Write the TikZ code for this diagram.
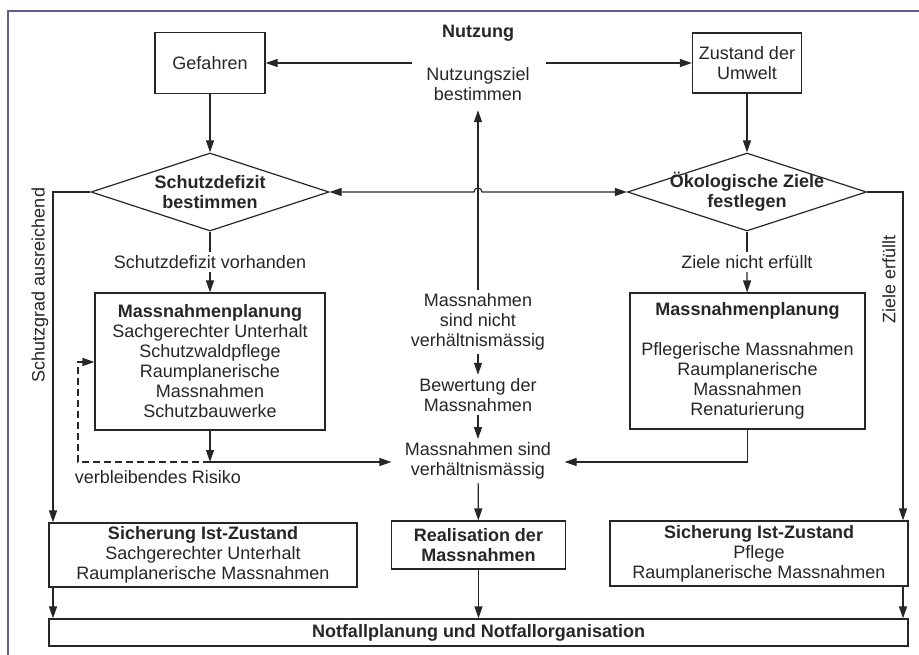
\documentclass[tikz,border=0pt]{standalone}
\usepackage{fontspec}
\setmainfont{Liberation Sans}
\usetikzlibrary{shapes.geometric,arrows.meta}
\definecolor{rahmenfarbe}{RGB}{95,95,135}
\tikzset{
	schrift/.style={font=\fontsize{18}{20}\selectfont},
	fett/.style={font=\fontsize{18}{20}\selectfont\bfseries},
	pfeil/.style={-{Triangle[length=12pt,width=8pt]}},
	doppelpfeil/.style={{Triangle[length=12pt,width=8pt]}-{Triangle[length=12pt,width=8pt]}},
	kasten/.style={draw,align=center,inner sep=2pt},
	raute/.style={draw,diamond,inner sep=0pt},
	txt/.style={align=center,inner sep=3pt}
}
\begin{document}
\begin{tikzpicture}[x=1pt,y=-1pt,line width=1.2pt,color=black!85,schrift]
		\useasboundingbox (0,0) rectangle (919,655);
		\draw[rahmenfarbe,line width=2.5pt] (8,655)--(8,11)--(919,11);
		\node[fett] (nutz) at (478,33) {Nutzung};
		\node[txt] (nzb) at (478,84) {Nutzungsziel\\bestimmen};
		\node[kasten,minimum width=110,minimum height=61] (gef) at (210,63) {Gefahren};
		\node[kasten,minimum width=109,minimum height=60] (zus) at (747,63) {Zustand der\\Umwelt};
		\node[raute,minimum width=238,minimum height=78] (sd) at (210,192) {};
		\node[fett,align=center] at (sd) {Schutzdefizit\\bestimmen};
		\node[raute,minimum width=239,minimum height=78] (oz) at (747,192) {};
		\node[fett,align=center] at (oz) {Ökologische Ziele\\festlegen};
		\node[txt] (sdv) at (210,262) {Schutzdefizit vorhanden};
		\node[txt] (zne) at (747,262) {Ziele nicht erfüllt};
		\node[kasten,minimum width=230,minimum height=137] (mpl) at (210,361.5)
		{\textbf{Massnahmenplanung}\\Sachgerechter Unterhalt\\Schutzwaldpflege\\Raumplanerische\\Massnahmen\\Schutzbauwerke};
		\node[kasten,minimum width=235,minimum height=136] (mpr) at (747.5,361)
		{\textbf{Massnahmenplanung}\\[20pt]Pflegerische Massnahmen\\Raumplanerische\\Massnahmen\\Renaturierung};
		\node[txt] (nnv) at (478,322) {Massnahmen\\sind nicht\\verhältnismässig};
		\node[txt] (bew) at (478,395) {Bewertung der\\Massnahmen};
		\node[txt] (mv) at (478,461) {Massnahmen sind\\verhältnismässig};
		\node[txt] (vrt) at (158,477) {verbleibendes Risiko};
		\node[kasten,fett,minimum width=174,minimum height=48] (rea) at (478.5,545) {Realisation der\\Massnahmen};
		\node[kasten,minimum width=308,minimum height=64] (sil) at (203,555)
		{\textbf{Sicherung Ist-Zustand}\\Sachgerechter Unterhalt\\Raumplanerische Massnahmen};
		\node[kasten,minimum width=298,minimum height=65] (sir) at (759,553.5)
		{\textbf{Sicherung Ist-Zustand}\\Pflege\\Raumplanerische Massnahmen};
		\node[kasten,fett,minimum width=859,minimum height=27] (nf) at (478.5,632.5) {Notfallplanung und Notfallorganisation};
		\node[txt,rotate=90] (sga) at (40,285) {Schutzgrad ausreichend};
		\node[txt,rotate=90] (zer) at (889,279) {Ziele erfüllt};
		\path
		(412,63) coordinate (nl)
		(546,63) coordinate (nr)
		(53,192) coordinate (sgl)
		(903,192) coordinate (zel)
		(478,192) coordinate (kreuz)
		(210,462) coordinate (vr)
		(747.5,462) coordinate (rr)
		(78,362) coordinate (rk);
		\draw[pfeil] (nl)--(gef);
		\draw[pfeil] (nr)--(zus);
		\draw[pfeil] (gef)--(sd);
		\draw[pfeil] (zus)--(oz);
		\draw[pfeil,shorten >=6pt] (nnv)--(nzb);
		\draw[doppelpfeil] (sd.east)--([xshift=-4pt]kreuz) arc[start angle=180,end angle=360,radius=4]--(oz.west);
		\draw (sd)--(sdv);
		\draw[pfeil] (sdv)--(mpl);
		\draw (oz)--(zne);
		\draw[pfeil] (zne)--(mpr);
		\draw[pfeil] (sd.west)--(sgl)--(sgl|-sil.north);
		\draw[pfeil] (oz.east)--(zel)--(zel|-sir.north);
		\draw[pfeil] (sgl|-sil.south)--(sgl|-nf.north);
		\draw[pfeil] (zel|-sir.south)--(zel|-nf.north);
		\draw[pfeil] (mpl)--(vr);
		\draw[pfeil,shorten >=10pt] (vr)--(vr-|mv.west);
		\draw[pfeil,dash pattern=on 7pt off 4pt] (vr)-|(rk)--(rk-|mpl.west);
		\draw[pfeil,shorten >=10pt] (mpr)--(rr)--(rr-|mv.east);
		\foreach \a/\b in {nnv/bew,bew/mv,mv/rea,rea/nf}\draw[pfeil] (\a)--(\b);
	\end{tikzpicture}
\end{document}
